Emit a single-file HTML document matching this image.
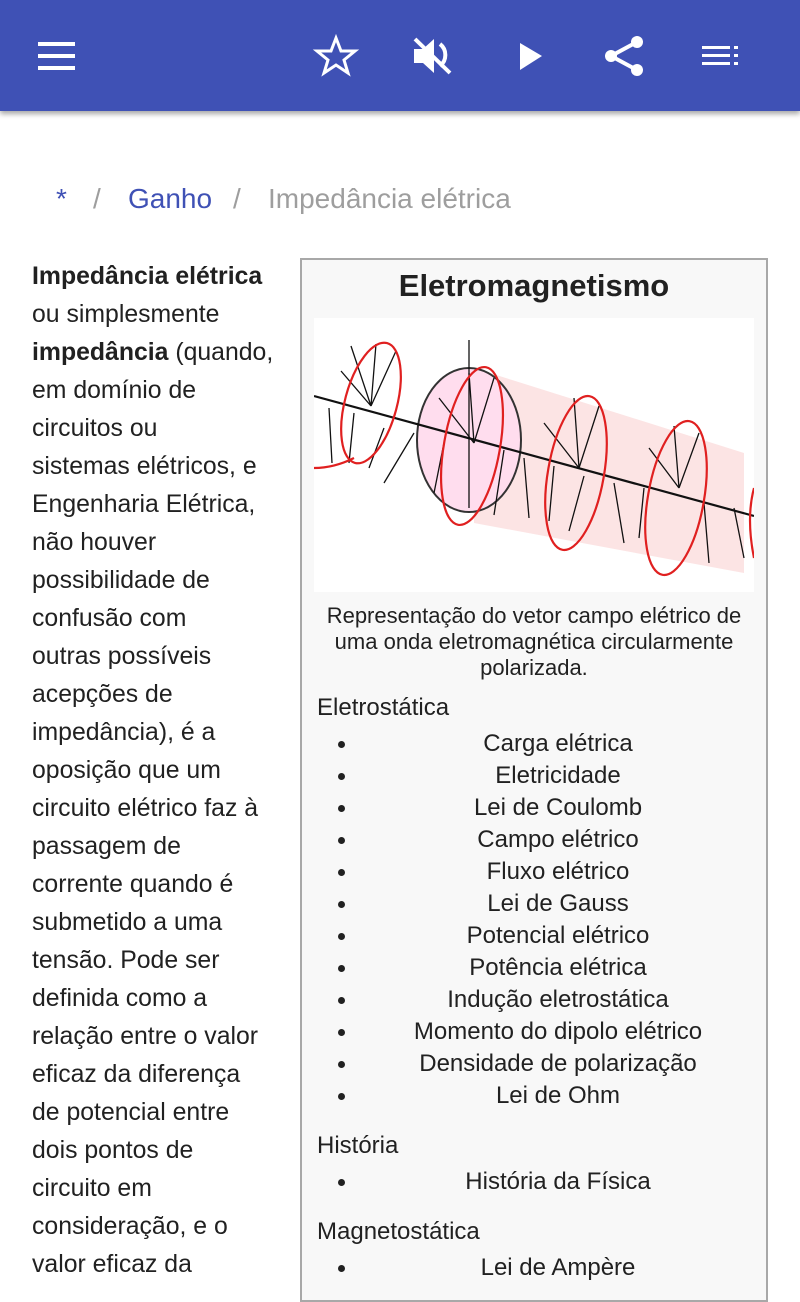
<!DOCTYPE html>
<html><head><meta charset="utf-8"><style>
body{margin:0;width:800px;height:1280px;background:#fff;font-family:"Liberation Sans",sans-serif;color:#212121;overflow:hidden;position:relative}
.hdr{position:absolute;left:0;top:0;width:800px;height:111px;background:#3f51b5;box-shadow:0 3px 5px rgba(0,0,0,.35)}
.a{position:absolute;white-space:nowrap}
.bc{top:183px;font-size:28px}
.lt{left:32px;font-size:24.8px;line-height:38px}
.box{position:absolute;left:300px;top:258px;width:464px;height:1040px;border:2px solid #a8a8a8;background:#f8f8f8}
.c{position:absolute;left:0;width:464px;text-align:center}
.li{position:absolute;left:56px;width:400px;text-align:center;font-size:24px;line-height:28px}
.dot{position:absolute;left:36px;width:7px;height:7px;border-radius:50%;background:#212121}
.h{position:absolute;left:15px;font-size:24px;line-height:28px}
</style></head><body>
<div class="hdr">
<svg width="800" height="111" style="position:absolute;left:0;top:0" fill="#fff">
<rect x="38" y="42" width="37" height="4"/><rect x="38" y="54" width="37" height="4"/><rect x="38" y="66" width="37" height="4"/>
<polygon points="336,38 341,51 355,51 344,60 348,73 336,65 324,73 328,60 317,51 331,51" fill="none" stroke="#fff" stroke-width="3"/>
<path d="M414,49h9l11,-10v34l-11,-10h-9z"/><path d="M440,44a14,14 0 0 1 0,22" fill="none" stroke="#fff" stroke-width="4"/><line x1="415" y1="39" x2="450" y2="73" stroke="#fff" stroke-width="4"/>
<polygon points="520,43 542,56 520,70"/>
<circle cx="637" cy="42" r="6"/><circle cx="611" cy="56" r="6"/><circle cx="637" cy="70" r="6"/><path d="M611,56L637,42M611,56L637,70" stroke="#fff" stroke-width="4"/>
<rect x="702" y="46" width="28" height="3"/><rect x="702" y="54" width="28" height="3"/><rect x="702" y="62" width="28" height="3"/>
<rect x="734" y="46" width="4" height="3"/><rect x="734" y="54" width="4" height="3"/><rect x="734" y="62" width="4" height="3"/>
</svg></div>
<div class="a bc" style="left:56px;color:#3f51b5">*</div>
<div class="a bc" style="left:93px;color:#9e9e9e">/</div>
<div class="a bc" style="left:128px;color:#3f51b5">Ganho</div>
<div class="a bc" style="left:233px;color:#9e9e9e">/</div>
<div class="a bc" style="left:268px;color:#9e9e9e">Impedância elétrica</div>

<div class="a lt" style="top:258px"><b>Impedância elétrica</b></div>
<div class="a lt" style="top:296px">ou simplesmente</div>
<div class="a lt" style="top:334px"><b>impedância</b> (quando,</div>
<div class="a lt" style="top:372px">em domínio de</div>
<div class="a lt" style="top:410px">circuitos ou</div>
<div class="a lt" style="top:448px">sistemas elétricos, e</div>
<div class="a lt" style="top:486px">Engenharia Elétrica,</div>
<div class="a lt" style="top:524px">não houver</div>
<div class="a lt" style="top:562px">possibilidade de</div>
<div class="a lt" style="top:600px">confusão com</div>
<div class="a lt" style="top:638px">outras possíveis</div>
<div class="a lt" style="top:676px">acepções de</div>
<div class="a lt" style="top:714px">impedância), é a</div>
<div class="a lt" style="top:752px">oposição que um</div>
<div class="a lt" style="top:790px">circuito elétrico faz à</div>
<div class="a lt" style="top:828px">passagem de</div>
<div class="a lt" style="top:866px">corrente quando é</div>
<div class="a lt" style="top:904px">submetido a uma</div>
<div class="a lt" style="top:942px">tensão. Pode ser</div>
<div class="a lt" style="top:980px">definida como a</div>
<div class="a lt" style="top:1018px">relação entre o valor</div>
<div class="a lt" style="top:1056px">eficaz da diferença</div>
<div class="a lt" style="top:1094px">de potencial entre</div>
<div class="a lt" style="top:1132px">dois pontos de</div>
<div class="a lt" style="top:1170px">circuito em</div>
<div class="a lt" style="top:1208px">consideração, e o</div>
<div class="a lt" style="top:1246px">valor eficaz da</div>

<div class="box">
<div class="c" style="top:8px;font-size:31px;font-weight:bold">Eletromagnetismo</div>
<svg width="440" height="274" style="position:absolute;left:12px;top:58px;background:#fff">
<polygon points="160,50 430,135 430,255 160,205" fill="#fbd9d9" opacity=".7"/>
<ellipse cx="155" cy="122" rx="52" ry="72" fill="#fde" stroke="#333" stroke-width="2"/>
<g stroke="#111" stroke-width="1.3" fill="none">
<line x1="155" y1="190" x2="155" y2="22"/>
<path d="M57,88l-20,-60M57,88l5,-62M57,88l25,-55M57,88l-30,-35M160,125l-5,-70M160,125l20,-65M160,125l-35,-45M265,150l-5,-70M265,150l20,-62M265,150l-35,-45M365,170l-5,-62M365,170l20,-55M365,170l-30,-40"/>
<path d="M15,90l3,55M40,95l-5,50M70,110l-15,40M100,115l-30,50M130,125l-10,50M210,140l5,60M240,148l-5,55M300,165l10,60M330,170l-5,50M390,185l5,60M420,190l10,50M190,132l-10,65M270,158l-15,55"/>
</g>
<line x1="0" y1="78" x2="440" y2="198" stroke="#111" stroke-width="2.2"/>
<g fill="none" stroke="#e02020" stroke-width="2.2">
<ellipse cx="57" cy="85" rx="26" ry="62" transform="rotate(15 57 85)"/>
<ellipse cx="158" cy="128" rx="28" ry="80" transform="rotate(10 158 128)"/>
<ellipse cx="262" cy="155" rx="28" ry="78" transform="rotate(10 262 155)"/>
<ellipse cx="362" cy="180" rx="28" ry="78" transform="rotate(10 362 180)"/>
<path d="M0,150 Q20,150 40,140"/><path d="M440,170 Q432,200 440,240"/>
</g>
</svg>
<div class="c" style="top:343px;font-size:22px;line-height:26px">Representação do vetor campo elétrico de<br>uma onda eletromagnética circularmente<br>polarizada.</div>
<div class="h" style="top:434px">Eletrostática</div>
<div class="dot" style="top:481px"></div><div class="li" style="top:470px">Carga elétrica</div>
<div class="dot" style="top:513px"></div><div class="li" style="top:502px">Eletricidade</div>
<div class="dot" style="top:545px"></div><div class="li" style="top:534px">Lei de Coulomb</div>
<div class="dot" style="top:577px"></div><div class="li" style="top:566px">Campo elétrico</div>
<div class="dot" style="top:609px"></div><div class="li" style="top:598px">Fluxo elétrico</div>
<div class="dot" style="top:641px"></div><div class="li" style="top:630px">Lei de Gauss</div>
<div class="dot" style="top:673px"></div><div class="li" style="top:662px">Potencial elétrico</div>
<div class="dot" style="top:705px"></div><div class="li" style="top:694px">Potência elétrica</div>
<div class="dot" style="top:737px"></div><div class="li" style="top:726px">Indução eletrostática</div>
<div class="dot" style="top:769px"></div><div class="li" style="top:758px">Momento do dipolo elétrico</div>
<div class="dot" style="top:801px"></div><div class="li" style="top:790px">Densidade de polarização</div>
<div class="dot" style="top:833px"></div><div class="li" style="top:822px">Lei de Ohm</div>
<div class="h" style="top:872px">História</div>
<div class="dot" style="top:919px"></div><div class="li" style="top:908px">História da Física</div>
<div class="h" style="top:958px">Magnetostática</div>
<div class="dot" style="top:1005px"></div><div class="li" style="top:994px">Lei de Ampère</div>
</div>
</body></html>
